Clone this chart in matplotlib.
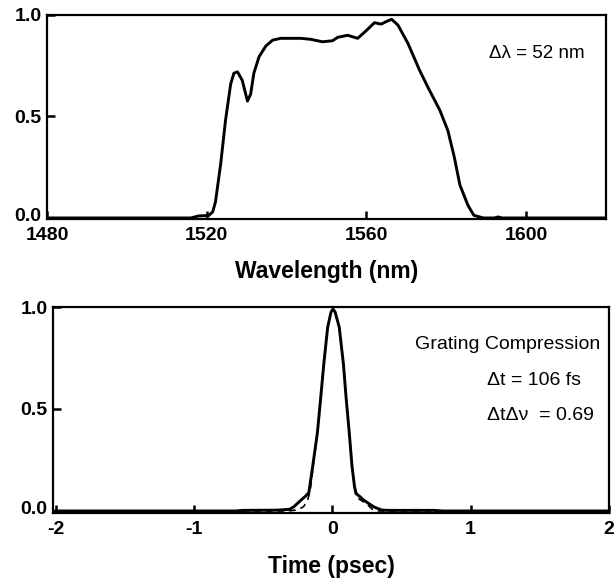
import matplotlib
matplotlib.use("Agg")
import matplotlib.pyplot as plt
from matplotlib.transforms import ScaledTranslation

plt.rcParams['font.family'] = ['Liberation Sans', 'DejaVu Sans']
plt.rcParams['axes.unicode_minus'] = False

# ---- Top panel: spectrum ----
wavelength = [1480, 1500, 1516, 1518, 1520.5, 1521.5, 1522.2, 1523.5, 1524.7, 1526.0,
              1526.8, 1527.7, 1528.9, 1530.2, 1531.0, 1531.8, 1533.1, 1534.8, 1536.5,
              1538.5, 1543.6, 1546.1, 1549.0, 1551.5, 1552.8, 1555.3, 1557.8, 1559.9,
              1562.0, 1563.7, 1564.9, 1566.3, 1567.9, 1570.4, 1573.3, 1575.5, 1578.4,
              1580.4, 1582.0, 1583.4, 1585.4, 1586.9, 1589.3, 1592.0, 1593.0, 1594.0,
              1600, 1620]
spectrum = [0.0, 0.0, 0.0, 0.01, 0.012, 0.03, 0.08, 0.267, 0.48, 0.66,
            0.713, 0.72, 0.678, 0.576, 0.61, 0.713, 0.794, 0.847, 0.876,
            0.885, 0.885, 0.88, 0.868, 0.873, 0.89, 0.90, 0.885, 0.922,
            0.962, 0.955, 0.967, 0.979, 0.95, 0.86, 0.728, 0.64, 0.53,
            0.43, 0.30, 0.163, 0.063, 0.013, 0.0, 0.0, 0.005, 0.0,
            0.0, 0.0]
wl_ticks = [1480, 1520, 1560, 1600]

# ---- Bottom panel: autocorrelation ----
time_ps = [-2.0, -0.7, -0.65, -0.4, -0.31, -0.28, -0.227, -0.19, -0.17, -0.142,
           -0.108, -0.085, -0.062, -0.034, -0.01, 0.005, 0.02, 0.05, 0.08, 0.10,
           0.122, 0.142, 0.16, 0.17, 0.20, 0.227, 0.30, 0.355, 0.40, 0.73, 0.8, 2.0]
pulse = [0.0, 0.0, 0.003, 0.004, 0.008, 0.02, 0.053, 0.075, 0.09, 0.22,
         0.385, 0.55, 0.72, 0.90, 0.975, 0.99, 0.975, 0.90, 0.72, 0.55,
         0.385, 0.22, 0.12, 0.086, 0.07, 0.053, 0.02, 0.005, 0.003, 0.003, 0.0, 0.0]
fit_time = [-2.0, -0.32, -0.27, -0.24, -0.21, -0.18, -0.16, -0.142, -0.108, -0.085,
            -0.062, -0.034, -0.01, 0.005, 0.02, 0.05, 0.08, 0.10, 0.122, 0.142,
            0.165, 0.19, 0.225, 0.255, 0.29, 0.33, 2.0]
fit_pulse = [0.0, 0.0, 0.004, 0.01, 0.02, 0.05, 0.1, 0.2, 0.385, 0.55,
             0.72, 0.90, 0.975, 0.99, 0.975, 0.90, 0.72, 0.55, 0.385, 0.22,
             0.11, 0.06, 0.045, 0.03, 0.008, 0.0, 0.0]
t_ticks = [-2, -1, 0, 1, 2]
y_ticks = [0.0, 0.5, 1.0]

fig = plt.figure(figsize=(6.16, 5.81), dpi=100)
ax1 = fig.add_axes([0.0763, 0.6231, 0.9838 - 0.0763, 0.9742 - 0.6231])
ax2 = fig.add_axes([0.086, 0.117, 0.9886 - 0.086, 0.4716 - 0.117])

def style(ax):
    for s in ax.spines.values():
        s.set_linewidth(1.6)
    ax.tick_params(direction='in', length=6, width=1.8, top=False, right=False,
                   labelsize=14)
    ax.tick_params(axis='x', pad=6)
    ax.tick_params(axis='y', pad=4)
    for lbl in ax.get_xticklabels() + ax.get_yticklabels():
        lbl.set_fontweight('bold')
    # the zero label sits slightly above the baseline in the original
    zero = ax.get_yticklabels()[0]
    zero.set_transform(zero.get_transform() +
                       ScaledTranslation(0, 3.5 / 100, fig.dpi_scale_trans))

ax1.plot(wavelength, spectrum, color='black', lw=2.1)
ax1.set_xlim(1480, 1620)
ax1.set_ylim(-0.005, 1.0)
ax1.set_xticks(wl_ticks)
ax1.set_xticklabels([str(v) for v in wl_ticks])
ax1.set_yticks(y_ticks)
ax1.set_yticklabels(['0.0', '0.5', '1.0'])
style(ax1)
ax1.set_xlabel('Wavelength (nm)', fontsize=16.5, fontweight='bold', labelpad=11)
ax1.text(0.962, 0.81, 'Δλ = 52 nm', transform=ax1.transAxes, ha='right', va='center',
         fontsize=13.5)

ax2.plot(fit_time, fit_pulse, color='black', lw=1.2, ls=(0, (4, 3)))
ax2.plot(time_ps, pulse, color='black', lw=2.1)
ax2.set_xlim(-2.02, 2.0)
ax2.set_ylim(-0.01, 1.0)
ax2.set_xticks(t_ticks)
ax2.set_xticklabels(['-2', '-1', '0', '1', '2'])
ax2.set_yticks(y_ticks)
ax2.set_yticklabels(['0.0', '0.5', '1.0'])
style(ax2)
ax2.set_xlabel('Time (psec)', fontsize=16.5, fontweight='bold', labelpad=12)
ax2.text(0.985, 0.82, 'Grating Compression', transform=ax2.transAxes, ha='right',
         va='center', fontsize=14)
ax2.text(0.78, 0.645, 'Δt = 106 fs', transform=ax2.transAxes, ha='left',
         va='center', fontsize=14)
ax2.text(0.78, 0.475, 'ΔtΔν  = 0.69', transform=ax2.transAxes, ha='left',
         va='center', fontsize=14)

fig.savefig('out.png', dpi=100)
